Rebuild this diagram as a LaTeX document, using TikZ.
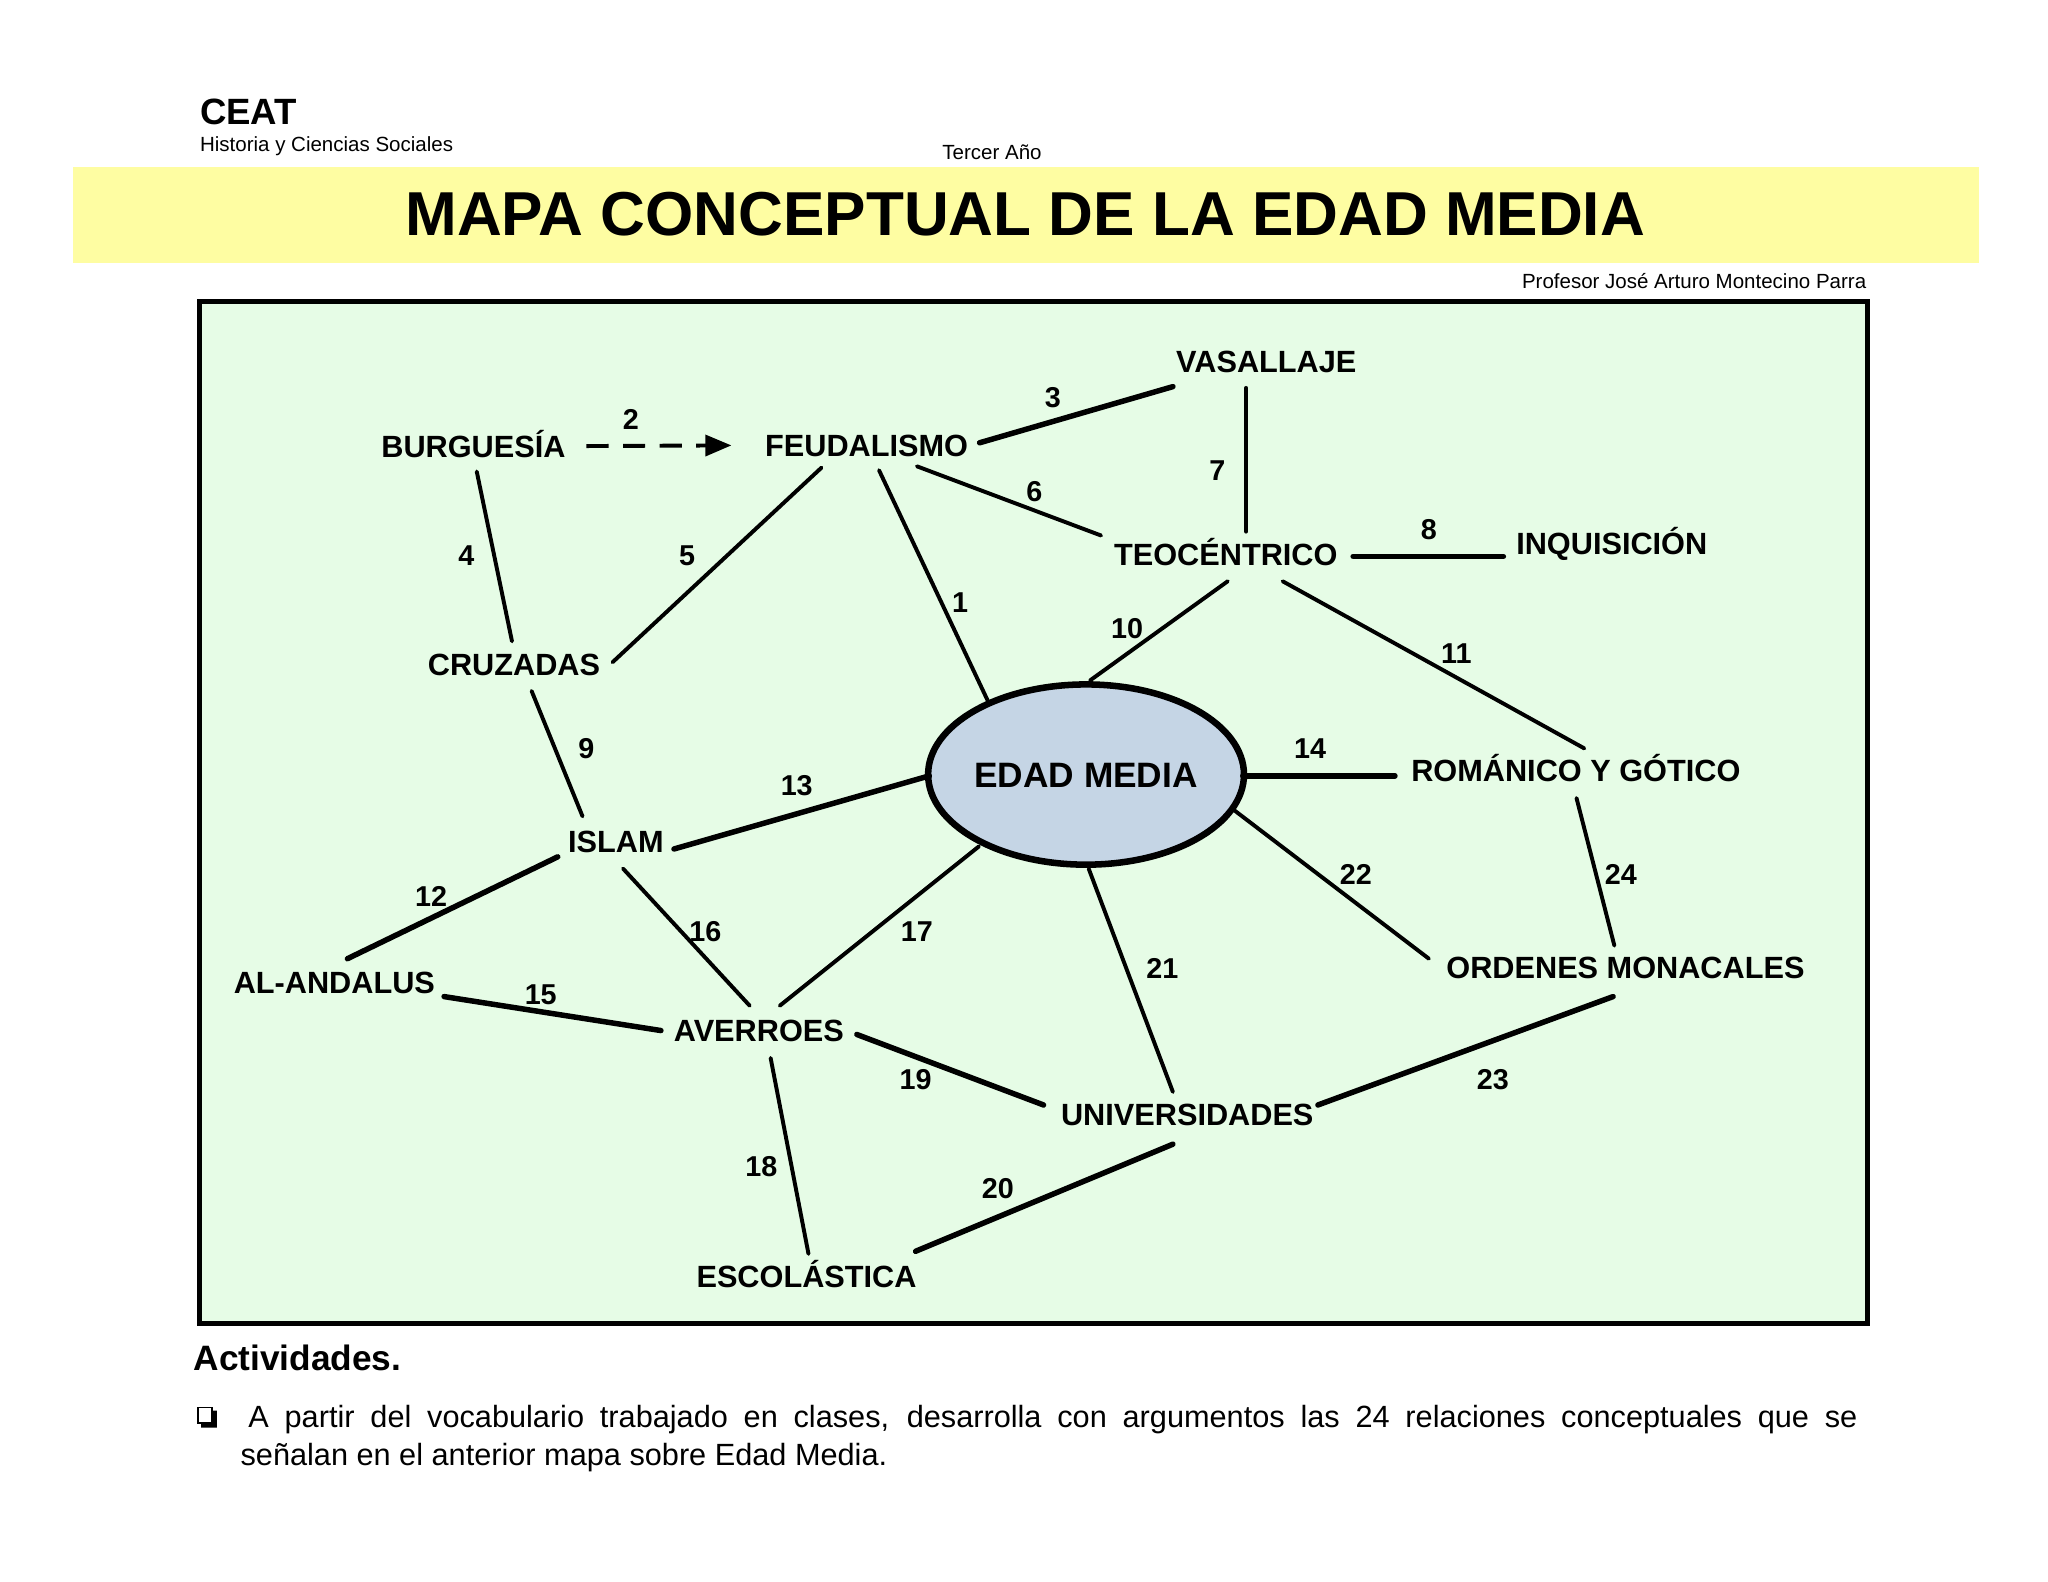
\documentclass[tikz,border=0pt]{standalone}
\usepackage{fontspec}
\setmainfont{Liberation Sans}
\usetikzlibrary{calc,arrows.meta,shapes.geometric}
\definecolor{bandyellow}{HTML}{FEFDA2}
\definecolor{mapgreen}{HTML}{E6FCE6}
\definecolor{ovalblue}{HTML}{C5D5E5}
\begin{document}
\begin{tikzpicture}[x=1pt,y=-1pt,
  concept/.style={font=\fontsize{23.5}{26}\selectfont\bfseries, inner sep=0pt, text height=16.8pt, text depth=0pt},
  num/.style={font=\fontsize{22}{24}\selectfont\bfseries, inner sep=0pt, text height=15.8pt, text depth=0pt},
  link/.style={line width=3pt, line cap=round},
  thicklink/.style={line width=4.2pt, line cap=round},
  dasharrow/.style={line width=3pt, dash pattern=on 17pt off 11pt, -{Triangle[length=20pt,width=16pt]}},
  small/.style={font=\fontsize{15.7}{18}\selectfont, inner sep=0pt}
]
\useasboundingbox (0,0) rectangle (1568,1211);
\fill[white] (0,0) rectangle (1568,1211);

% header
\node[font=\fontsize{28}{30}\selectfont\bfseries, inner sep=0pt, anchor=base west] (ceat) at (153,95) {CEAT};
\node[small, anchor=base west] (hist) at (153,116) {Historia y Ciencias Sociales};
\node[small, anchor=base] (anio) at (759.5,122) {Tercer Año};
\fill[bandyellow] (56,128) rectangle (1515,201);
\node[font=\fontsize{47.5}{50}\selectfont\bfseries, inner sep=0pt, anchor=base] (title) at (785,180) {MAPA CONCEPTUAL DE LA EDAD MEDIA};
\node[small, anchor=base east] (prof) at (1429,220.5) {Profesor José Arturo Montecino Parra};

% map frame
\draw[line width=3.8pt, fill=mapgreen] (153,231) rectangle (1430,1013);

% concepts
\node[concept] (vas) at (969.5,276.5) {VASALLAJE};
\node[concept] (burg) at (362.5,341.5) {BURGUESÍA};
\node[concept] (feud) at (663.5,341) {FEUDALISMO};
\node[concept] (teo) at (938.5,424.5) {TEOCÉNTRICO};
\node[concept] (inq) at (1234,416.5) {INQUISICIÓN};
\node[concept] (cruz) at (393.5,509) {CRUZADAS};
\node[ellipse, draw, line width=5pt, fill=ovalblue, minimum width=234pt, minimum height=138pt, inner sep=0pt,
      font=\fontsize{27}{30}\selectfont\bfseries, text height=19.3pt, text depth=0pt] (em) at (831.5,593) {EDAD MEDIA};
\node[concept] (rom) at (1206.5,590) {ROMÁNICO Y GÓTICO};
\node[concept] (islam) at (471.5,644) {ISLAM};
\node[concept] (ala) at (256,752) {AL-ANDALUS};
\node[concept] (ave) at (581,789) {AVERROES};
\node[concept] (ord) at (1244.5,741) {ORDENES MONACALES};
\node[concept] (uni) at (909,853) {UNIVERSIDADES};
\node[concept] (esc) at (617.5,977) {ESCOLÁSTICA};

% connectors
\draw[link] ($(feud)+(9.5,19)$) -- ($(em)+(-75,-56)$);
\draw[dasharrow] ($(burg)+(86.5,0)$) -- ($(feud)+(-103.5,0)$);
\draw[thicklink] ($(feud)+(86.5,-2)$) -- ($(vas)+(-71.5,19.5)$);
\draw[link] ($(burg)+(2.5,19.5)$) -- ($(cruz)+(-1.5,-18)$);
\draw[link] ($(feud)+(-34.5,17)$) -- ($(cruz)+(75.5,-2)$);
\draw[link] ($(feud)+(38.5,16)$) -- ($(teo)+(-95.5,-14.5)$);
\draw[link] ($(vas)+(-15.5,20.5)$) -- ($(teo)+(15.5,-17.5)$);
\draw[thicklink] ($(teo)+(97.5,1.5)$) -- ($(inq)+(-83,9.5)$);
\draw[link] ($(cruz)+(13.5,20)$) -- ($(islam)+(-25.5,-19)$);
\draw[link] ($(teo)+(1.5,20.5)$) -- ($(em)+(3,-72)$);
\draw[link] ($(teo)+(43.5,20.5)$) -- ($(rom)+(6.5,-17)$);
\draw[thicklink] ($(islam)+(-44.5,12)$) -- ($(ala)+(10,-18)$);
\draw[thicklink] ($(islam)+(44.5,6)$) -- ($(em)+(-120,1)$);
\draw[thicklink] ($(em)+(120,1)$) -- ($(rom)+(-138.5,4)$);
\draw[thicklink] ($(ala)+(84,11)$) -- ($(ave)+(-75,0)$);
\draw[link] ($(islam)+(5.5,21)$) -- ($(ave)+(-7,-19)$);
\draw[link] ($(em)+(-82,55)$) -- ($(ave)+(16,-19)$);
\draw[link] ($(ave)+(9,21)$) -- ($(esc)+(1.5,-17)$);
\draw[thicklink] ($(ave)+(75,3)$) -- ($(uni)+(-110,-7)$);
\draw[thicklink] ($(uni)+(-11,23)$) -- ($(esc)+(83.5,-19)$);
\draw[link] ($(em)+(2,72)$) -- ($(uni)+(-11,-17)$);
\draw[link] ($(em)+(113,27)$) -- ($(ord)+(-150.5,-7)$);
\draw[thicklink] ($(ord)+(-9.5,22)$) -- ($(uni)+(100,-7)$);
\draw[link] ($(rom)+(0.5,21)$) -- ($(ord)+(-8.5,-17)$);

% relation numbers
\node[num] (l1) at (735,461) {1};
\node[num] (l2) at (483,321) {2};
\node[num] (l3) at (806,304) {3};
\node[num] (l4) at (357,425) {4};
\node[num] (l5) at (526,425) {5};
\node[num] (l6) at (792,376) {6};
\node[num] (l7) at (932,360) {7};
\node[num] (l8) at (1094,405) {8};
\node[num] (l9) at (449,573) {9};
\node[num] (l10) at (863,481) {10};
\node[num] (l11) at (1115,500) {11};
\node[num] (l12) at (330,686) {12};
\node[num] (l13) at (610,601) {13};
\node[num] (l14) at (1003,573) {14};
\node[num] (l15) at (414,761) {15};
\node[num] (l16) at (540,713) {16};
\node[num] (l17) at (702,713) {17};
\node[num] (l18) at (583,893) {18};
\node[num] (l19) at (701,826) {19};
\node[num] (l20) at (764,910) {20};
\node[num] (l21) at (890,741) {21};
\node[num] (l22) at (1038,669) {22};
\node[num] (l23) at (1143,826) {23};
\node[num] (l24) at (1241,669) {24};

% activities
\node[font=\fontsize{27}{30}\selectfont\bfseries, inner sep=0pt, anchor=base west] (act) at (148,1049) {Actividades.};
\draw[line width=1.3pt] (151.5,1077.5) rectangle (162.5,1089.5);
\fill (162.5,1080) -- (166,1080) -- (166,1093) -- (154,1093) -- (154,1089.5) -- (162.5,1089.5) -- cycle;
\node[font=\fontsize{23.5}{28}\selectfont, inner sep=0pt, anchor=base west] (line1) at (190,1093)
  {\makebox[1232pt][s]{A partir del vocabulario trabajado en clases, desarrolla con argumentos las 24 relaciones conceptuales que se}};
\node[font=\fontsize{23.5}{28}\selectfont, inner sep=0pt, anchor=base west] (line2) at (184,1122)
  {señalan en el anterior mapa sobre Edad Media.};
\end{tikzpicture}
\end{document}
